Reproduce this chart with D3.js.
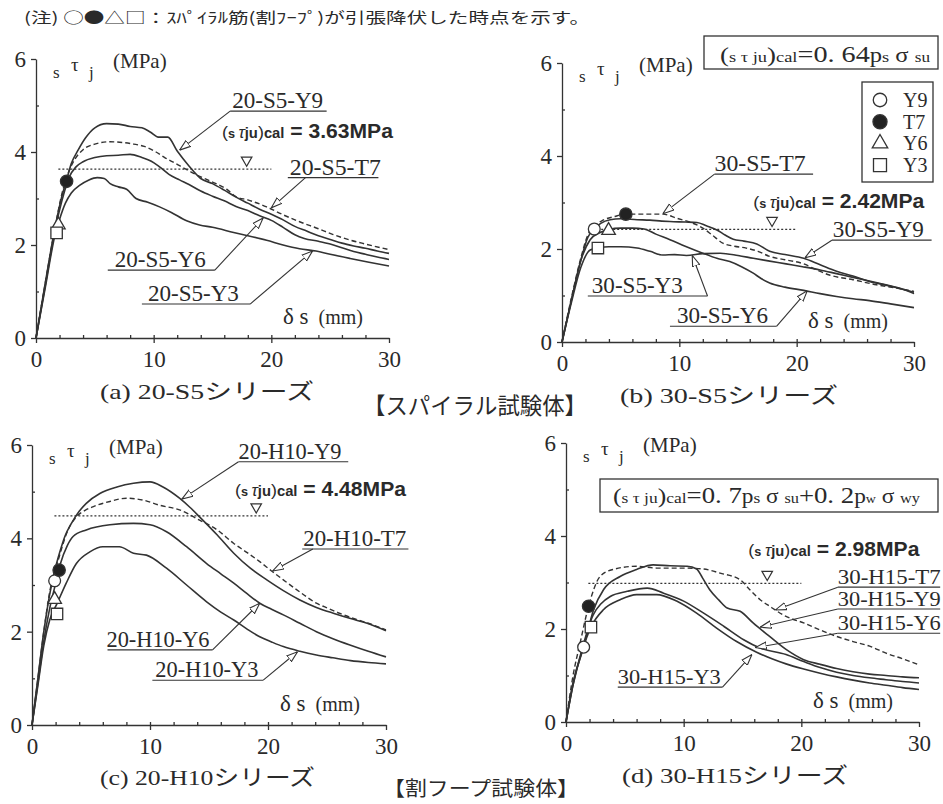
<!DOCTYPE html>
<html lang="ja">
<head>
<meta charset="UTF-8">
<title>付着応力度－すべり量関係</title>
<style>
body { margin: 0; background: #fff; }
svg text { fill: #2a2a2a; }
.curve { fill: none; stroke: #333; stroke-width: 1.6; stroke-linejoin: round; }
.curve.dash { stroke-dasharray: 5 3; stroke-width: 1.4; }
.calline { stroke: #333; stroke-width: 1.2; stroke-dasharray: 2 2; }
.axis path, .axis line { stroke: #333; stroke-width: 1.3; }
.leader { fill: none; stroke: #333; stroke-width: 1.1; }
</style>
</head>
<body>
<script src="https://cdnjs.cloudflare.com/ajax/libs/d3/7.8.5/d3.min.js"></script>
<script>
// ---- data ----
var xTicks = [0, 10, 20, 30];
var yTicks = [0, 2, 4, 6];
var names = ["Y9", "T7", "Y6", "Y3"];
var calValues = [3.63, 2.42, 4.48, 2.98];

// (a) 20-S5
var a_Y9 = [[0,0],[0.8,1.2],[1.6,2.35],[2.2,3.05],[2.6,3.4],[3,3.75],[3.6,4.05],[4.2,4.3],[5,4.52],[6,4.61],[7,4.6],[8,4.55],[9,4.52],[9.7,4.43],[10.4,4.32],[11.2,4.32],[12,4.02],[13,3.7],[14,3.43],[15,3.32],[16,3.18],[17,3.03],[18,2.9],[19,2.77],[20,2.66],[21,2.54],[22,2.4],[23,2.3],[24,2.2],[25,2.12],[26,2.04],[27,1.98],[28,1.93],[29,1.87],[30,1.82]];
var a_T7 = [[0,0],[0.8,1.2],[1.6,2.35],[2.2,3.1],[2.6,3.45],[3.2,3.8],[4,4.05],[5,4.17],[6.3,4.22],[7.5,4.2],[8.3,4.17],[9.2,4.12],[10.2,4.0],[11,3.87],[11.9,3.75],[12.6,3.65],[13.4,3.54],[14.3,3.43],[15.3,3.32],[16.2,3.2],[17,3.04],[18,2.97],[19.6,2.82],[21,2.65],[22.4,2.5],[24,2.35],[25.2,2.23],[26.5,2.12],[28,2.02],[30,1.9]];
var a_Y6 = [[0,0],[0.8,1.15],[1.6,2.3],[2.2,2.95],[2.8,3.45],[3.4,3.68],[4,3.79],[5,3.88],[6,3.92],[7,3.93],[8,3.95],[9,3.88],[9.8,3.8],[10.5,3.68],[11.3,3.52],[12.2,3.4],[13,3.3],[14,3.16],[15,3.05],[16,2.95],[17,2.83],[18,2.74],[19,2.63],[20,2.53],[21,2.38],[22,2.22],[22.8,2.14],[24,2.08],[25,2.02],[26,1.94],[27,1.86],[28,1.8],[29,1.74],[30,1.69]];
var a_Y3 = [[0,0],[0.8,1.1],[1.6,2.2],[2,2.55],[2.5,2.9],[3,3.12],[3.7,3.28],[4.5,3.4],[5.2,3.45],[5.8,3.43],[6.3,3.32],[7,3.25],[7.7,3.2],[8.5,3.0],[9.5,2.92],[10.5,2.82],[11.5,2.7],[12.8,2.52],[13.9,2.43],[15,2.38],[16.8,2.27],[18,2.2],[19.6,2.1],[21,2.0],[22.4,1.92],[23.8,1.87],[25,1.8],[26.7,1.71],[28.3,1.63],[30,1.55]];
var a_yield = [null, [2.6,3.37], [1.9,2.43], [1.75,2.26]];

// (b) 30-S5
var b_Y9 = [[0,0],[0.8,0.9],[1.6,1.75],[2.2,2.25],[2.75,2.43],[3.3,2.55],[4.1,2.63],[5,2.65],[6.4,2.63],[7.5,2.62],[8.5,2.6],[9.2,2.59],[10.5,2.58],[11.5,2.57],[12.3,2.5],[13.2,2.41],[13.9,2.3],[14.6,2.21],[15.5,2.17],[16.6,2.11],[17.7,1.95],[19,1.88],[20.6,1.8],[22,1.66],[23.4,1.52],[24.8,1.42],[26.2,1.3],[28,1.2],[30,1.07]];
var b_T7 = [[0,0],[0.8,0.95],[1.6,1.8],[2.2,2.3],[2.7,2.48],[3.5,2.62],[4.5,2.7],[5.44,2.75],[6.9,2.75],[8.6,2.75],[9.8,2.66],[11,2.57],[12,2.45],[12.8,2.3],[13.75,2.12],[14.7,2.06],[15.7,2.02],[16.7,1.95],[17.7,1.84],[19,1.77],[20.6,1.68],[21.7,1.55],[22.8,1.44],[24.8,1.34],[26.8,1.23],[28.5,1.16],[30,1.09]];
var b_Y6 = [[0,0],[0.8,0.9],[1.6,1.75],[2.4,2.2],[3.2,2.35],[3.97,2.42],[5,2.45],[6,2.45],[7,2.43],[8,2.32],[9.2,2.2],[10.5,2.06],[12,1.91],[13.2,1.8],[14.3,1.73],[15.3,1.62],[16.3,1.48],[17,1.36],[17.7,1.27],[19,1.18],[20.6,1.11],[22,1.04],[23.4,0.98],[24.8,0.93],[26.2,0.89],[28,0.82],[30,0.74]];
var b_Y3 = [[0,0],[0.8,0.85],[1.6,1.6],[2.4,1.98],[3.06,2.02],[4,2.05],[5,2.05],[6.4,2.02],[7.5,1.95],[8.6,1.87],[9.6,1.88],[10.6,1.86],[12,1.9],[13.5,1.91],[15,1.86],[16.3,1.8],[17.7,1.74],[19.1,1.68],[20.5,1.62],[22,1.55],[23.4,1.47],[24.8,1.39],[26.2,1.31],[27.6,1.23],[29,1.14],[30,1.04]];
var b_yield = [[2.75,2.43], [5.44,2.75], [3.97,2.4], [3.06,2.02]];

// (c) 20-H10
var c_Y9 = [[0,0],[0.5,1.0],[1,2.0],[1.5,2.8],[1.92,3.3],[2.35,3.7],[2.8,4.05],[3.34,4.32],[4,4.58],[4.6,4.75],[5.75,4.96],[7.2,5.1],[8.6,5.18],[10,5.21],[11.1,5.1],[12.5,4.86],[13.4,4.66],[14.2,4.46],[15.7,4.07],[17.1,3.68],[18.5,3.36],[19.9,3.11],[21.3,2.88],[22.7,2.68],[24.1,2.52],[25.6,2.39],[27,2.28],[28.4,2.18],[30,2.02]];
var c_T7 = [[0,0],[0.5,1.0],[1,2.0],[1.5,2.85],[2.3,3.6],[3,4.15],[3.76,4.46],[4.5,4.6],[5.2,4.68],[6.6,4.79],[8,4.86],[9.4,4.82],[10.8,4.71],[12.5,4.61],[14.2,4.39],[15.7,4.18],[17.1,3.89],[18.2,3.7],[19.3,3.5],[20.3,3.3],[21.3,3.11],[22.7,2.85],[24.1,2.61],[25.1,2.5],[26.1,2.39],[27.5,2.26],[28.5,2.18],[30,2.04]];
var c_Y6 = [[0,0],[0.5,0.9],[1,1.8],[1.5,2.5],[1.92,2.95],[2.4,3.45],[3,3.85],[3.48,4.04],[4.6,4.18],[6.6,4.29],[8.6,4.32],[10,4.29],[11.4,4.14],[13.1,3.82],[14.8,3.46],[16,3.24],[17.1,3.04],[18.2,2.82],[19.3,2.61],[20.3,2.48],[21.3,2.36],[22.7,2.18],[24.1,2.0],[25.5,1.85],[27,1.71],[28.5,1.58],[30,1.46]];
var c_Y3 = [[0,0],[0.5,0.85],[1,1.7],[1.5,2.25],[2.12,2.6],[2.9,3.04],[3.76,3.46],[4.9,3.71],[6,3.82],[7.4,3.82],[8.6,3.68],[9.7,3.64],[11.4,3.36],[13.1,3.0],[14.8,2.64],[16,2.42],[17.1,2.25],[18.2,2.06],[19.3,1.89],[20.3,1.78],[21.3,1.68],[22.7,1.58],[24.1,1.5],[25.5,1.44],[27,1.38],[28.5,1.34],[30,1.31]];
var c_yield = [[1.92,3.09], [2.3,3.32], [1.92,2.69], [2.12,2.38]];

// (d) 30-H15
var d_Y9 = [[0,0],[0.6,0.85],[1.5,1.61],[2.35,2.42],[3.2,2.85],[4.6,3.13],[6,3.28],[7.4,3.38],[8.85,3.36],[10.3,3.35],[11.1,3.29],[11.6,3.1],[12.2,2.85],[13,2.62],[13.7,2.45],[14.8,2.38],[15.9,2.13],[17.3,1.84],[18.7,1.56],[20.2,1.34],[21.6,1.24],[23,1.15],[24.4,1.08],[25.8,1.03],[27.2,1.0],[28.6,0.97],[30,0.95]];
var d_T7 = [[0,0],[0.6,1.0],[1.2,1.7],[1.92,2.49],[2.9,3.13],[4,3.28],[6,3.35],[7.7,3.31],[10.3,3.31],[11.7,3.29],[13.1,3.2],[14.8,3.06],[15.6,2.85],[16.5,2.63],[17.3,2.49],[18.7,2.27],[20.2,2.13],[21.6,1.98],[23,1.84],[24.4,1.73],[25.8,1.63],[27.2,1.48],[28.6,1.36],[30,1.23]];
var d_Y6 = [[0,0],[0.6,0.8],[1.4,1.6],[2.3,2.3],[3,2.55],[3.76,2.7],[5.2,2.81],[6.9,2.88],[8.3,2.77],[10,2.6],[11.7,2.34],[13.4,2.06],[15.1,1.77],[16.5,1.59],[18.7,1.45],[20.2,1.3],[21.6,1.17],[23,1.07],[24.4,1.0],[25.8,0.95],[27.2,0.91],[28.6,0.87],[30,0.84]];
var d_Y3 = [[0,0],[0.6,0.8],[1.4,1.55],[2.12,2.04],[3.2,2.42],[4.6,2.63],[6,2.74],[7.7,2.74],[9.4,2.6],[11.1,2.34],[12.8,2.02],[14.5,1.73],[16.2,1.5],[17.5,1.36],[18.7,1.25],[20.2,1.14],[21.6,1.05],[23,0.97],[24.4,0.9],[25.8,0.84],[27.2,0.79],[28.6,0.74],[30,0.7]];
var d_yield = [[1.5,1.61], [1.92,2.49], null, [2.12,2.04]];

// ---- layout ----
var SERIF = "'Liberation Serif', 'DejaVu Serif', serif";
var MIX = "'Liberation Serif', 'Noto Sans CJK JP', serif";
var SANS = "'Liberation Sans', Arial, sans-serif";

var panels = [
  { spec: "20-S5", cap: "(a) 20-S5シリーズ", x: [36, 389], y: [338, 59], capPos: [100, 399], capW: 214, lf: 23,
    series: [a_Y9, a_T7, a_Y6, a_Y3], yields: a_yield, cal: calValues[0], calSpan: [1.9, 20], calText: [15.8, 4.3], nabla: 17.9,
    labels: [
      { s: 0, u: [16.5, 24.7, 4.88], from: 16.5, tip: [12.2, 4.04], dx: 2 },
      { s: 1, u: [21.4, 29.1, 3.45], from: 22.9, tip: [20.0, 2.8], dx: 2 },
      { s: 2, u: [6.1, 15.2, 1.46], from: 15.2, tip: [19.3, 2.58], dx: 7 },
      { s: 3, u: [9.0, 18.2, 0.73], from: 18.2, tip: [23.5, 1.87], dx: 6 } ] },
  { spec: "30-S5", cap: "(b) 30-S5シリーズ", x: [562, 914], y: [342, 63], capPos: [620, 403], capW: 218, lf: 23,
    series: [b_Y9, b_T7, b_Y6, b_Y3], yields: b_yield, cal: calValues[1], calSpan: [3, 20], calText: [16.3, 2.88], nabla: 17.9,
    labels: [
      { s: 1, u: [13.0, 21.4, 3.61], from: 13.0, tip: [8.6, 2.76], dx: 0 },
      { s: 0, u: [23.0, 31.5, 2.19], from: 23.0, tip: [20.7, 1.81], dx: 1 },
      { s: 3, u: [2.2, 12.4, 0.99], from: 12.4, tip: [11.1, 1.86], dx: 4 },
      { s: 2, u: [9.2, 18.3, 0.34], from: 18.3, tip: [20.9, 1.1], dx: 7 } ] },
  { spec: "20-H10", cap: "(c) 20-H10シリーズ", x: [32, 386], y: [725, 445], capPos: [100, 785], capW: 215, lf: 23,
    series: [c_Y9, c_T7, c_Y6, c_Y3], yields: c_yield, cal: calValues[2], calSpan: [1.9, 20], calText: [17.2, 4.91], nabla: 19.0,
    labels: [
      { s: 0, u: [17.5, 26.8, 5.64], from: 17.5, tip: [12.7, 4.84], dx: 0 },
      { s: 1, u: [22.9, 31.9, 3.77], from: 23.8, tip: [20.4, 3.3], dx: 1 },
      { s: 2, u: [6.4, 15.3, 1.61], from: 15.3, tip: [19.3, 2.61], dx: -1 },
      { s: 3, u: [10.2, 19.6, 0.96], from: 19.6, tip: [22.5, 1.57], dx: 3 } ] },
  { spec: "30-H15", cap: "(d) 30-H15シリーズ", x: [566, 919], y: [722, 443], capPos: [622, 783], capW: 226, lf: 20,
    series: [d_Y9, d_T7, d_Y6, d_Y3], yields: d_yield, cal: calValues[3], calSpan: [1.9, 20], calText: [15.5, 3.57], nabla: 17.1,
    labels: [
      { s: 1, u: [23.1, 31.8, 2.9], from: 23.1, tip: [17.8, 2.41], dx: 0 },
      { s: 0, u: [23.1, 31.8, 2.43], from: 23.1, tip: [16.5, 2.04], dx: 0 },
      { s: 2, u: [23.1, 31.8, 1.91], from: 23.1, tip: [16.1, 1.6], dx: 0 },
      { s: 3, u: [4.4, 13.3, 0.75], from: 13.3, tip: [15.8, 1.45], dx: 0 } ] }
];

var svg = d3.select("body").append("svg").attr("width", 943).attr("height", 804);

svg.append("defs").append("marker")
  .attr("id", "arr").attr("viewBox", "0 0 10 10").attr("refX", 10).attr("refY", 5)
  .attr("markerWidth", 11).attr("markerHeight", 11).attr("markerUnits", "userSpaceOnUse")
  .attr("orient", "auto")
  .append("path").attr("d", "M0,1.6 L10,5 L0,8.4 Z")
  .attr("fill", "#fff").attr("stroke", "#333").attr("stroke-width", 1);

var shapes = [d3.symbolCircle, d3.symbolCircle, d3.symbolTriangle, d3.symbolSquare];
var sizes = [110, 120, 80, 130];

function symbol(g, i, cx, cy, k) {
  g.append("path")
    .attr("d", d3.symbol().type(shapes[i]).size(sizes[i] * (k || 1))())
    .attr("transform", "translate(" + cx + "," + cy + ")")
    .attr("fill", i == 1 ? "#222" : "#fff")
    .attr("stroke", "#333").attr("stroke-width", 1.3);
}

// header note
svg.append("text").attr("x", 24).attr("y", 23)
  .attr("font-family", "'Noto Sans CJK JP', sans-serif").attr("font-size", 15)
  .attr("textLength", 566).attr("lengthAdjust", "spacingAndGlyphs")
  .text("(注)  ○●△□：ｽﾊﾟｲﾗﾙ筋(割ﾌｰﾌﾟ)が引張降伏した時点を示す。");

panels.forEach(function (p) {
  var g = svg.append("g");
  var xs = d3.scaleLinear().domain([0, 30]).range(p.x);
  var ys = d3.scaleLinear().domain([0, 6]).range(p.y);

  // minor ticks (inward)
  g.append("g").attr("class", "axis").attr("transform", "translate(0," + p.y[0] + ")")
    .call(d3.axisBottom(xs).tickValues(d3.range(2, 30, 2)).tickSize(-3).tickFormat(""))
    .select(".domain").remove();
  g.append("g").attr("class", "axis").attr("transform", "translate(" + p.x[0] + ",0)")
    .call(d3.axisLeft(ys).tickValues([1, 3, 5]).tickSize(-3).tickFormat(""))
    .select(".domain").remove();

  // major ticks + labels
  g.append("g").attr("class", "axis").attr("transform", "translate(0," + p.y[0] + ")")
    .attr("color", "#2a2a2a")
    .call(d3.axisBottom(xs).tickValues(xTicks).tickFormat(d3.format("d"))
      .tickSizeInner(5).tickSizeOuter(0).tickPadding(8))
    .attr("font-family", SERIF).attr("font-size", 23);
  g.append("g").attr("class", "axis").attr("transform", "translate(" + p.x[0] + ",0)")
    .attr("color", "#2a2a2a")
    .call(d3.axisLeft(ys).tickValues(yTicks).tickFormat(d3.format("d"))
      .tickSizeInner(5).tickSizeOuter(0).tickPadding(5))
    .attr("font-family", SERIF).attr("font-size", 23);

  // y axis title  sτj (MPa)
  var yt = g.append("text").attr("font-family", SERIF);
  yt.append("tspan").attr("x", p.x[0] + 17).attr("y", p.y[1] + 19).attr("font-size", 17).text("s");
  yt.append("tspan").attr("x", p.x[0] + 35).attr("y", p.y[1] + 12).attr("font-size", 19).text("τ");
  yt.append("tspan").attr("x", p.x[0] + 53).attr("y", p.y[1] + 19).attr("font-size", 17).text("j");
  yt.append("tspan").attr("x", p.x[0] + 77).attr("y", p.y[1] + 9).attr("font-size", 21).text("(MPa)");

  // x axis title  δs (mm)
  var xt = g.append("text").attr("font-family", SERIF).attr("x", p.x[1] - 106).attr("y", p.y[0] - 14);
  xt.append("tspan").attr("font-size", 23).text("δ s");
  xt.append("tspan").attr("font-size", 20).attr("dx", 10).text("(mm)");

  // calculated strength line
  g.append("line").attr("class", "calline")
    .attr("x1", xs(p.calSpan[0])).attr("x2", xs(p.calSpan[1]))
    .attr("y1", ys(p.cal)).attr("y2", ys(p.cal));
  g.append("path")
    .attr("d", d3.symbol().type(d3.symbolTriangle).size(48)())
    .attr("transform", "translate(" + xs(p.nabla) + "," + (ys(p.cal) - 9) + ") rotate(180)")
    .attr("fill", "#fff").attr("stroke", "#333").attr("stroke-width", 1.2);
  var ct = g.append("text").attr("font-family", SANS).attr("font-weight", "bold")
    .attr("x", xs(p.calText[0])).attr("y", ys(p.calText[1]))
    .attr("textLength", 171).attr("lengthAdjust", "spacingAndGlyphs");
  ct.append("tspan").attr("font-size", 17).attr("font-weight", "normal").text("(");
  ct.append("tspan").attr("font-size", 12).text("s ");
  ct.append("tspan").attr("font-size", 16).attr("font-style", "italic").attr("font-weight", "normal").text("τ");
  ct.append("tspan").attr("font-size", 14).text("ju");
  ct.append("tspan").attr("font-size", 17).attr("font-weight", "normal").text(")");
  ct.append("tspan").attr("font-size", 14).text("cal");
  ct.append("tspan").attr("font-size", 20).text(" = " + p.cal.toFixed(2) + "MPa");

  // curves
  var line = d3.line().x(function (d) { return xs(d[0]); }).y(function (d) { return ys(d[1]); })
    .curve(d3.curveMonotoneX);
  p.series.forEach(function (s, i) {
    g.append("path").attr("class", i == 1 ? "curve dash" : "curve").attr("d", line(s));
  });

  // labels with leaders
  var lw = p.spec.length > 5 ? 103 : 91;
  p.labels.forEach(function (l) {
    g.append("line").attr("class", "leader")
      .attr("x1", xs(l.u[0])).attr("x2", xs(l.u[1])).attr("y1", ys(l.u[2])).attr("y2", ys(l.u[2]));
    g.append("path").attr("class", "leader").attr("marker-end", "url(#arr)")
      .attr("d", "M" + xs(l.from) + "," + ys(l.u[2]) + "L" + xs(l.tip[0]) + "," + ys(l.tip[1]));
    g.append("text").attr("font-family", SERIF).attr("font-size", p.lf)
      .attr("x", xs(l.u[0]) + l.dx).attr("y", ys(l.u[2]) - 3)
      .attr("textLength", lw).attr("lengthAdjust", "spacingAndGlyphs")
      .text(p.spec + "-" + names[l.s]);
  });

  // yield points
  p.yields.forEach(function (d, i) {
    if (d) symbol(g, i, xs(d[0]), ys(d[1]));
  });

  // caption
  svg.append("text").attr("font-family", MIX).attr("font-size", 22)
    .attr("x", p.capPos[0]).attr("y", p.capPos[1])
    .attr("textLength", p.capW).attr("lengthAdjust", "spacingAndGlyphs")
    .text(p.cap);
});

// formula boxes
function formula(x, y, w, h, tx, ty, tw, parts) {
  svg.append("rect").attr("x", x).attr("y", y).attr("width", w).attr("height", h)
    .attr("fill", "#fff").attr("stroke", "#333").attr("stroke-width", 1.3);
  var t = svg.append("text").attr("font-family", SERIF).attr("x", tx).attr("y", ty)
    .attr("textLength", tw).attr("lengthAdjust", "spacingAndGlyphs");
  parts.forEach(function (q) { t.append("tspan").attr("font-size", q[1]).text(q[0]); });
}
formula(704, 36, 234, 33, 720, 62, 210,
  [["(", 22], ["s τ ju", 15], [")", 22], ["cal", 15], ["=0. 64", 23], ["p", 20], ["s", 15], [" σ ", 20], ["su", 14]]);
formula(600, 479, 338, 33, 613, 503, 307,
  [["(", 22], ["s τ ju", 15], [")", 22], ["cal", 15], ["=0. 7", 23], ["p", 20], ["s", 15], [" σ ", 20], ["su", 14],
   ["+0. 2", 23], ["p", 20], ["w", 12], [" σ ", 20], ["wy", 14]]);

// legend in (b)
svg.append("rect").attr("x", 862).attr("y", 82).attr("width", 71).attr("height", 100)
  .attr("fill", "#fff").attr("stroke", "#333").attr("stroke-width", 1.3);
names.forEach(function (n, i) {
  var cy = 100 + i * 21.7;
  symbol(svg, i, 880, cy, 1.3);
  svg.append("text").attr("font-family", SERIF).attr("font-size", 20)
    .attr("x", 903).attr("y", cy + 7).text(n);
});

// series titles
svg.append("text").attr("font-family", "'Noto Sans CJK JP', sans-serif").attr("font-size", 23)
  .attr("x", 363).attr("y", 414).attr("textLength", 224).attr("lengthAdjust", "spacingAndGlyphs")
  .text("【スパイラル試験体】");
svg.append("text").attr("font-family", "'Noto Sans CJK JP', sans-serif").attr("font-size", 20)
  .attr("x", 383).attr("y", 796).attr("textLength", 196).attr("lengthAdjust", "spacingAndGlyphs")
  .text("【割フープ試験体】");
</script>
</body>
</html>
